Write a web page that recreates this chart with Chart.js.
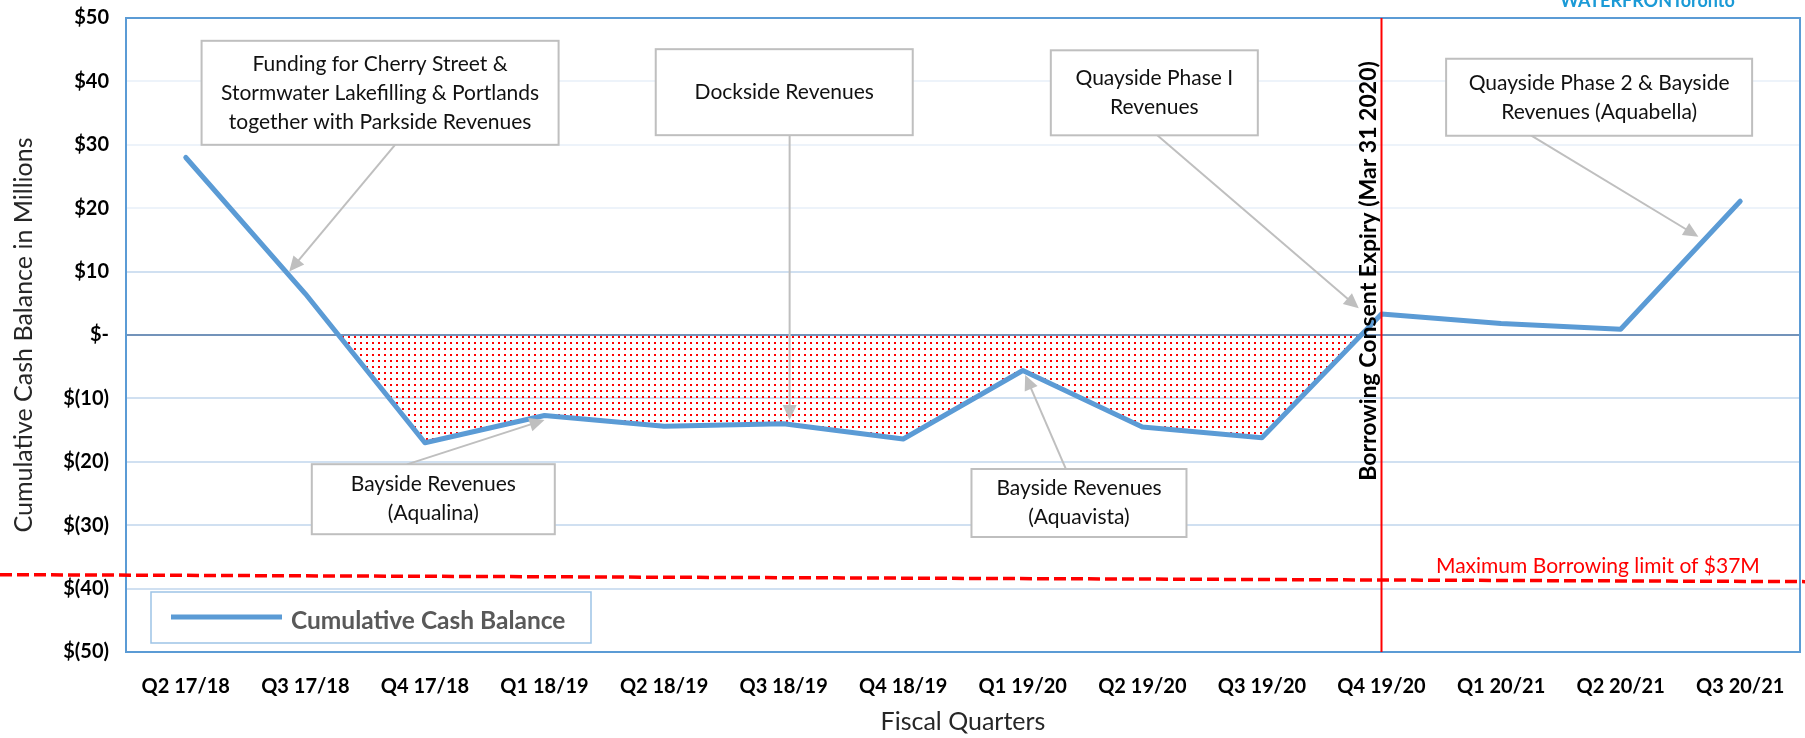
<!DOCTYPE html>
<html><head><meta charset="utf-8">
<script src="https://cdn.jsdelivr.net/npm/chart.js@4.4.1/dist/chart.umd.min.js"></script>
<style>html,body{margin:0;padding:0;background:#fff;overflow:hidden}canvas{display:block}</style>
</head><body>
<canvas id="c" width="1805" height="738"></canvas>
<script>
// ---- data ----
const categories = ['Q2 17/18','Q3 17/18','Q4 17/18','Q1 18/19','Q2 18/19','Q3 18/19','Q4 18/19','Q1 19/20','Q2 19/20','Q3 19/20','Q4 19/20','Q1 20/21','Q2 20/21','Q3 20/21'];
const cashBalance = [28.0, 6.5, -17.0, -12.7, -14.4, -14.0, -16.4, -5.6, -14.5, -16.2, 3.3, 1.8, 0.9, 21.1];
const yTickValues = [50, 40, 30, 20, 10, 0, -10, -20, -30, -40, -50];
const yTickLabels = ['$50','$40','$30','$20','$10','$-','$(10)','$(20)','$(30)','$(40)','$(50)'];
const seriesName = 'Cumulative Cash Balance';
const borrowingLimitStart = -37.8;   // drawn limit line, slightly slanted in source
const borrowingLimitEnd = -38.9;
const consentExpiryIndex = 10;
const consentText = 'Borrowing Consent Expiry (Mar 31 2020)';
const limitText = 'Maximum Borrowing limit of $37M';
const calloutTexts = [
  ['Funding for Cherry Street &','Stormwater Lakefilling & Portlands','together with Parkside Revenues'],
  ['Dockside Revenues'],
  ['Quayside Phase I','Revenues'],
  ['Quayside Phase 2 & Bayside','Revenues (Aquabella)'],
  ['Bayside Revenues','(Aqualina)'],
  ['Bayside Revenues','(Aquavista)']
];

// ---- layout of callouts (category index / value anchors, pixel sizes) ----
const calloutLayout = [
  {c:[1.625, 38.2], s:[357,104], tail:[1.75, 30.0], tip:[0.865, 10.0]},
  {c:[5.005, 38.3], s:[257, 86], tail:[5.05, 31.5], tip:[5.05, -13.4]},
  {c:[8.10, 38.2],  s:[207, 85], tail:[8.125, 31.5], tip:[9.81, 4.2]},
  {c:[11.82, 37.5], s:[306, 77], tail:[11.25, 31.5], tip:[12.65, 15.5]},
  {c:[2.07, -25.9], s:[243, 70], tail:[1.85, -20.4], tip:[3.0, -13.4]},
  {c:[7.47, -26.5], s:[215, 68], tail:[7.36, -21.1], tip:[7.02, -6.3]}
];

const FONT = 'Lato, "Open Sans", sans-serif';
const canvas = document.getElementById('c');
const ctx0 = canvas.getContext('2d');

function dotPattern(){
  const p = document.createElement('canvas'); p.width = 6; p.height = 6;
  const g = p.getContext('2d'); g.fillStyle = '#FF0000'; g.fillRect(0,0,2,2);
  return ctx0.createPattern(p, 'repeat');
}

function arrow(ctx, x1, y1, x2, y2){
  const a = Math.atan2(y2-y1, x2-x1), L = 15, W = 7;
  ctx.save();
  ctx.strokeStyle = '#BFBFBF'; ctx.fillStyle = '#BFBFBF'; ctx.lineWidth = 2;
  ctx.beginPath(); ctx.moveTo(x1,y1); ctx.lineTo(x2 - Math.cos(a)*L*0.8, y2 - Math.sin(a)*L*0.8); ctx.stroke();
  ctx.beginPath(); ctx.moveTo(x2,y2);
  ctx.lineTo(x2 - L*Math.cos(a) + W*Math.sin(a), y2 - L*Math.sin(a) - W*Math.cos(a));
  ctx.lineTo(x2 - L*Math.cos(a) - W*Math.sin(a), y2 - L*Math.sin(a) + W*Math.cos(a));
  ctx.closePath(); ctx.fill();
  ctx.restore();
}

const decorPlugin = {
  id: 'decor',
  beforeDatasetsDraw(chart){
    const {ctx, chartArea: a} = chart;
    ctx.save();
    ctx.strokeStyle = '#5B9BD5'; ctx.lineWidth = 2;
    ctx.strokeRect(a.left, a.top, a.right - a.left, a.bottom - a.top);
    ctx.restore();
  },
  afterDatasetsDraw(chart){
    const {ctx, chartArea: a, scales: {x, y}} = chart;
    ctx.save();
    // callouts
    calloutLayout.forEach((L) => {
      const t1 = [x.getPixelForValue(L.tail[0]), y.getPixelForValue(L.tail[1])];
      const t2 = [x.getPixelForValue(L.tip[0]), y.getPixelForValue(L.tip[1])];
      arrow(ctx, t1[0], t1[1], t2[0], t2[1]);
    });
    calloutLayout.forEach((L, i) => {
      const cx = x.getPixelForValue(L.c[0]), cy = y.getPixelForValue(L.c[1]);
      const w = L.s[0], h = L.s[1];
      ctx.fillStyle = '#FFFFFF'; ctx.fillRect(cx - w/2, cy - h/2, w, h);
      ctx.strokeStyle = '#BFBFBF'; ctx.lineWidth = 2; ctx.strokeRect(cx - w/2, cy - h/2, w, h);
      const lines = calloutTexts[i], lh = 29;
      ctx.fillStyle = '#111'; ctx.font = '21px ' + FONT; ctx.textAlign = 'center'; ctx.textBaseline = 'middle';
      lines.forEach((s, k) => ctx.fillText(s, cx, cy + (k - (lines.length - 1)/2) * lh));
    });
    // consent expiry vertical line + text
    const vx = x.getPixelForValue(consentExpiryIndex);
    ctx.strokeStyle = '#FF0000'; ctx.lineWidth = 2;
    ctx.beginPath(); ctx.moveTo(vx, a.top); ctx.lineTo(vx, a.bottom); ctx.stroke();
    ctx.save();
    ctx.translate(vx - 13, y.getPixelForValue(10.1)); ctx.rotate(-Math.PI/2);
    ctx.fillStyle = '#000'; ctx.font = 'bold 23px ' + FONT; ctx.textAlign = 'center'; ctx.textBaseline = 'middle';
    ctx.fillText(consentText, 0, 0);
    ctx.restore();
    // borrowing limit dashed line
    ctx.strokeStyle = '#FF0000'; ctx.lineWidth = 3.5; ctx.setLineDash([12, 5]);
    ctx.beginPath(); ctx.moveTo(0, y.getPixelForValue(borrowingLimitStart));
    ctx.lineTo(chart.width, y.getPixelForValue(borrowingLimitEnd)); ctx.stroke();
    ctx.setLineDash([]);
    ctx.fillStyle = '#FF0000'; ctx.font = '21px ' + FONT; ctx.textAlign = 'center'; ctx.textBaseline = 'middle';
    ctx.fillText(limitText, x.getPixelForValue(11.81), y.getPixelForValue(-36.4));
    // legend
    const lx = a.left + 25, ly = a.bottom - 60, lw = 440, lhh = 51;
    ctx.fillStyle = '#FFFFFF'; ctx.fillRect(lx, ly, lw, lhh);
    ctx.strokeStyle = '#9DC3E6'; ctx.lineWidth = 1.5; ctx.strokeRect(lx, ly, lw, lhh);
    ctx.strokeStyle = '#5B9BD5'; ctx.lineWidth = 5;
    ctx.beginPath(); ctx.moveTo(lx + 20, ly + 25); ctx.lineTo(lx + 131, ly + 25); ctx.stroke();
    ctx.fillStyle = '#595959'; ctx.font = 'bold 24.5px ' + FONT; ctx.textAlign = 'left'; ctx.textBaseline = 'middle';
    ctx.fillText(seriesName, lx + 140, ly + 29);
    // logo
    ctx.fillStyle = '#1B9AD6'; ctx.font = 'bold 18px ' + FONT; ctx.textAlign = 'left'; ctx.textBaseline = 'alphabetic';
    ctx.fillText('WATERFRONToronto', 1560, 7);
    ctx.restore();
  }
};

new Chart(canvas, {
  type: 'line',
  data: {
    labels: categories,
    datasets: [{
      label: seriesName,
      data: cashBalance,
      borderColor: '#5B9BD5',
      borderWidth: 5,
      pointRadius: 0,
      tension: 0,
      borderJoinStyle: 'round',
      borderCapStyle: 'round',
      fill: {target: {value: 0}, above: 'rgba(0,0,0,0)', below: dotPattern()}
    }]
  },
  options: {
    responsive: false,
    animation: false,
    devicePixelRatio: 1,
    layout: {padding: {top: 18, right: 5, left: 0, bottom: 0}},
    plugins: {legend: {display: false}, tooltip: {enabled: false}},
    scales: {
      x: {
        offset: true,
        grid: {display: false, drawTicks: false},
        border: {display: false},
        ticks: {color: '#000', font: {family: FONT, size: 20, weight: 'bold'}, padding: 23, maxRotation: 0, autoSkip: false},
        title: {display: true, text: 'Fiscal Quarters', color: '#262626', font: {family: FONT, size: 25}, padding: {top: 0, bottom: 1}},
        afterFit(s){ s.height = 86; s.paddingLeft = 0; s.paddingRight = 0; }
      },
      y: {
        min: -50, max: 50,
        ticks: {stepSize: 10, color: '#000', font: {family: FONT, size: 20, weight: 'bold'}, padding: 17,
          callback: v => { const i = yTickValues.indexOf(v); return i >= 0 ? yTickLabels[i] : ''; }},
        grid: {drawTicks: false, lineWidth: 2,
          color: c => c.tick && c.tick.value === 0 ? '#7393BA' : (c.tick && c.tick.value >= 20 ? '#EDF3FA' : '#D0E0F1')},
        border: {display: false},
        title: {display: true, text: 'Cumulative Cash Balance in Millions', color: '#262626', font: {family: FONT, size: 25}, padding: {top: 9, bottom: 0}},
        afterFit(s){ s.width = 126; s.paddingTop = 0; s.paddingBottom = 0; }
      }
    }
  },
  plugins: [decorPlugin]
});
</script>
</body></html>
